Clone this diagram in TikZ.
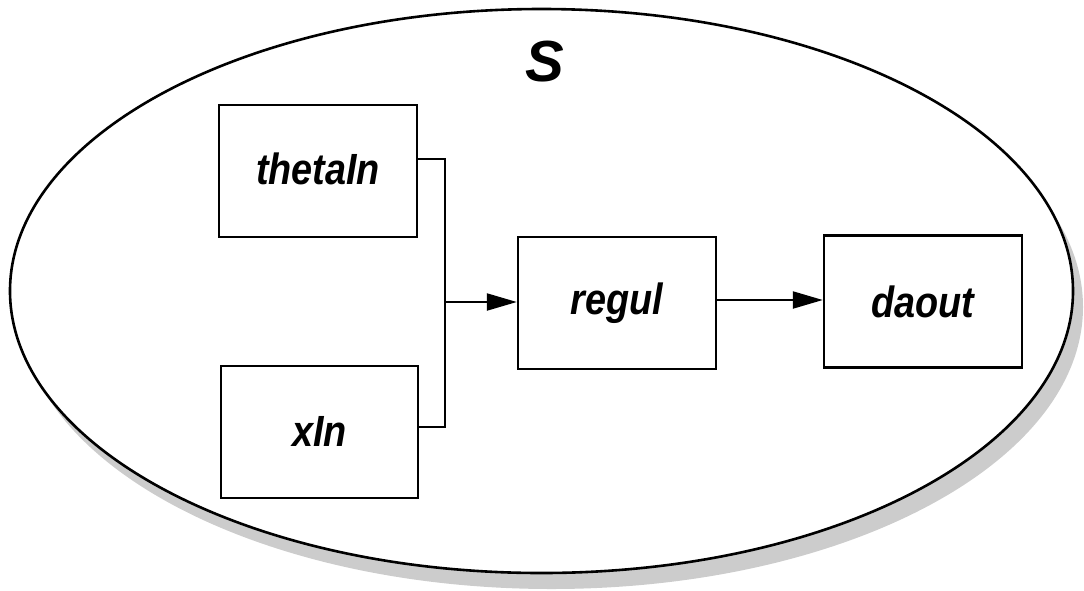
\documentclass[tikz,border=0pt]{standalone}
\usepackage{fontspec}
\setmainfont{Liberation Sans}
\usetikzlibrary{arrows.meta}
\begin{document}
\begin{tikzpicture}[x=1pt,y=-1pt,
  blockbox/.style={draw=black,line width=2.4pt,fill=white,minimum width=198pt,minimum height=132pt,inner sep=0pt,
    font=\fontsize{39}{40}\selectfont\bfseries\itshape},
  wire/.style={draw=black,line width=2.2pt},
  arr/.style={wire,-{Triangle[length=30pt,width=17pt]}}]
\useasboundingbox (0,0) rectangle (1084,590);
% shadow and ellipse
\fill[gray!40] (551.5,307) ellipse [x radius=531.5pt, y radius=282pt];
\draw[line width=2.6pt,fill=white] (541.5,291) ellipse [x radius=531.5pt, y radius=282pt];
\node[font=\fontsize{58}{60}\selectfont\bfseries\itshape] (S) at (545,62) {S};
% blocks
\node[blockbox] (thetaIn) at (318,171) {\raisebox{5pt}{\scalebox{0.97}[1.12]{thetaIn}}};
\node[blockbox,minimum width=197pt] (xIn) at (319.5,432) {\raisebox{2pt}{\scalebox{0.97}[1.12]{xIn}}};
\node[blockbox] (regul) at (617,303) {\scalebox{0.97}[1.12]{regul}};
\node[blockbox] (daout) at (923,301.5) {\scalebox{0.97}[1.12]{daout}};
% connectors
\coordinate (j1) at (445,159);
\coordinate (j2) at (445,427);
\coordinate (j) at (445,302);
\draw[wire] (thetaIn.east |- j1) -- (j1) -- (j2) -- (xIn.east |- j2);
\draw[arr] (j) -- (regul.west |- j);
\draw[arr] (regul.east |- 0,300) -- (daout.west |- 0,300);
\end{tikzpicture}
\end{document}
